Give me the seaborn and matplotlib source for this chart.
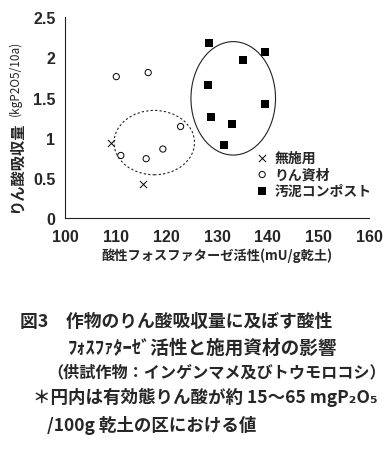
import numpy as np
import pandas as pd
import matplotlib
matplotlib.use("Agg")
import matplotlib.pyplot as plt
import seaborn as sns
from matplotlib.patches import Ellipse

# data
treatments = ["無施用", "りん資材", "汚泥コンポスト"]
x_none = [109.1, 115.3]
y_none = [0.94, 0.42]
x_pmat = [110.1, 116.4, 111.0, 116.0, 119.3, 122.8]
y_pmat = [1.76, 1.81, 0.78, 0.74, 0.86, 1.14]
x_sludge = [128.5, 139.4, 135.2, 128.2, 139.4, 128.9, 132.9, 131.4]
y_sludge = [2.18, 2.07, 1.97, 1.66, 1.42, 1.26, 1.17, 0.91]

# circled groups (center x, center y, width, height)
circle_solid = (133.2, 1.49, 16.7, 1.41)
circle_dashed = (117.6, 0.94, 15.9, 0.80)

x_ticks = [100, 110, 120, 130, 140, 150, 160]
y_ticks = [0, 0.5, 1, 1.5, 2, 2.5]
y_ticklabels = ["0", "0.5", "1", "1.5", "2", "2.5"]

caption = [
    "図3　作物のりん酸吸収量に及ぼす酸性",
    "ﾌｫｽﾌｧﾀｰｾﾞ活性と施用資材の影響",
    "（供試作物：インゲンマメ及びトウモロコシ）",
    "＊円内は有効態りん酸が約 15～65 mgP₂O₅",
    "/100g 乾土の区における値",
]

df = pd.DataFrame({
    "x": x_none + x_pmat + x_sludge,
    "y": y_none + y_pmat + y_sludge,
    "treat": [treatments[0]] * len(x_none) + [treatments[1]] * len(x_pmat)
             + [treatments[2]] * len(x_sludge),
})

sns.set_style("white")
plt.rcParams['font.family'] = ['Noto Sans CJK JP', 'DejaVu Sans']
num_font = ['Liberation Sans', 'Noto Sans CJK JP']

fig = plt.figure(figsize=(3.9, 4.52), dpi=100)
ax = fig.add_axes([0.167, 0.515, 0.779, 0.445])

sns.scatterplot(data=df[df.treat == treatments[0]], x="x", y="y", marker="x",
                color="black", s=26, linewidth=0.7, label=treatments[0], ax=ax)
sns.scatterplot(data=df[df.treat == treatments[1]], x="x", y="y", marker="o",
                facecolor="none", edgecolor="black", s=20, linewidth=0.7,
                label=treatments[1], ax=ax)
sns.scatterplot(data=df[df.treat == treatments[2]], x="x", y="y", marker="s",
                color="black", s=28, linewidth=0, label=treatments[2], ax=ax)

cx, cy, w, h = circle_solid
ax.add_patch(Ellipse((cx, cy), w, h, fill=False, edgecolor="#222222", lw=0.8))
cx, cy, w, h = circle_dashed
ax.add_patch(Ellipse((cx, cy), w, h, fill=False, edgecolor="#222222", lw=0.8,
                     linestyle=(0, (2, 2))))

ax.set_xlim(100, 160)
ax.set_ylim(0, 2.5)
ax.set_xticks(x_ticks)
ax.set_xticklabels([str(t) for t in x_ticks], family=num_font,
                   fontweight="bold", fontsize=11.5)
ax.set_yticks(y_ticks)
ax.set_yticklabels(y_ticklabels, family=num_font, fontweight="bold",
                   fontsize=11.5)
ax.tick_params(axis="both", direction="in", length=4, width=0.8, color="#222222")
ax.tick_params(axis="x", pad=8)
ax.tick_params(axis="y", pad=7)

sns.despine(ax=ax)
for sp in ["left", "bottom"]:
    ax.spines[sp].set_linewidth(0.8)
    ax.spines[sp].set_color("#222222")

ax.set_xlabel("酸性フォスファターゼ活性(mU/g乾土)", fontsize=9.5,
              fontweight="bold", labelpad=2)
ax.set_ylabel("")
# y label in two parts: bold Japanese + smaller unit
ax.text(-0.164, 0.03, "りん酸吸収量", rotation=90, ha="center", va="bottom",
        fontsize=11, fontweight="bold", transform=ax.transAxes)
ax.text(-0.164, 0.515, "(kgP2O5/10a)", rotation=90, ha="center", va="bottom",
        fontsize=8.5, transform=ax.transAxes)

ax.legend(loc="upper left", bbox_to_anchor=(0.612, 0.365), frameon=False,
          handletextpad=0.5, labelspacing=0.2, borderaxespad=0,
          handlelength=0.8, prop={"size": 10, "weight": "bold"})

cap_x = [20, 68, 47, 33, 47]
cap_y = [322, 348, 372, 397, 425]
cap_size = [12.8, 13.4, 11.6, 12.6, 12.6]
for txt, xx, yy, fs in zip(caption, cap_x, cap_y, cap_size):
    fig.text(xx / 390, 1 - yy / 452, txt, fontsize=fs, fontweight="bold",
             va="center", ha="left")

fig.savefig("out.png", dpi=100)
